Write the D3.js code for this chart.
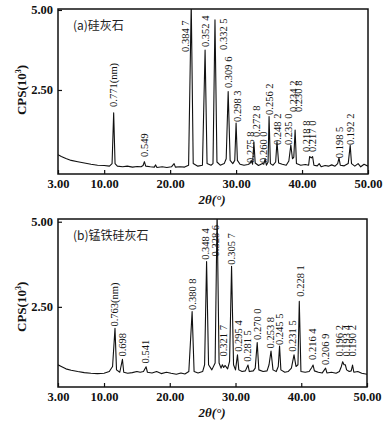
<!DOCTYPE html>
<html>
<head>
<meta charset="utf-8">
<script src="https://cdn.jsdelivr.net/npm/d3@7"></script>
<style>
  body { margin: 0; background: #fff; }
  svg { display: block; }
</style>
</head>
<body>
<div id="chart"></div>
<script>
// Chart size
const width = 391, height = 431;

// Axis ticks shared by both panels
const xTicks = [3, 10, 20, 30, 40, 50];
const yTicks = [2.5, 5];

// Panel titles
const titleA = "(a)硅灰石";
const titleB = "(b)锰铁硅灰石";

// Diffraction traces: [2theta, CPS/1000]
const traceA = [
  [3.0,0.48],[3.5,0.42],[4.2,0.36],[5,0.3],[6,0.26],[7,0.22],[8,0.18],[9,0.15],[10,0.14],[10.8,0.12],
  [11.2,0.2],[11.44,1.79],[11.65,0.2],[12,0.12],[12.8,0.1],[13.5,0.12],[14.3,0.09],[15,0.11],[15.6,0.1],
  [15.9,0.14],[16.1,0.26],[16.3,0.12],[17,0.1],[17.6,0.09],[17.8,0.16],[18,0.08],[18.8,0.1],[19.5,0.08],
  [20.2,0.1],[20.6,0.2],[20.8,0.09],[21.5,0.1],[22.2,0.09],[22.8,0.15],[23.2,5.2],[23.5,0.2],[24.2,0.12],
  [24.9,0.15],[25.3,3.75],[25.6,0.2],[26.2,0.15],[26.5,0.2],[26.8,4.69],[27.1,0.25],[27.6,0.15],[28.2,0.2],
  [28.5,0.35],[28.8,2.45],[29.1,0.3],[29.5,0.2],[29.8,0.3],[30.0,1.47],[30.2,0.3],[30.6,0.18],[31.2,0.15],
  [31.8,0.17],[32.1,0.2],[32.3,0.3],[32.5,0.18],[32.7,0.87],[32.9,0.22],[33.4,0.14],[34.0,0.2],[34.2,0.18],
  [34.4,0.35],[34.6,0.15],[34.85,0.25],[35.0,1.67],[35.2,0.2],[35.6,0.15],[36.0,0.25],[36.2,0.89],[36.45,0.22],
  [37,0.18],[37.6,0.15],[38.0,0.28],[38.3,0.78],[38.55,0.35],[38.75,0.4],[38.95,1.25],[39.15,0.2],[39.8,0.15],
  [40.5,0.17],[41.0,0.15],[41.15,0.42],[41.4,0.38],[41.6,0.42],[41.8,0.15],[42.3,0.13],[42.6,0.2],[42.9,0.1],
  [43.5,0.14],[44,0.12],[44.5,0.16],[45,0.12],[45.4,0.2],[45.6,0.38],[45.8,0.15],[46.4,0.13],[47.0,0.2],
  [47.3,0.77],[47.5,0.2],[48,0.12],[48.5,0.2],[48.9,0.1],[49.4,0.18],[50,0.12]
];

const traceB = [
  [3,0.8],[3.5,0.75],[4.2,0.68],[5,0.64],[6,0.6],[7,0.57],[8,0.55],[9,0.54],[10,0.55],[10.8,0.6],
  [11.3,0.75],[11.67,1.87],[11.9,0.65],[12.4,0.58],[12.8,0.96],[13.0,0.58],[13.6,0.55],[14.3,0.57],[15,0.6],
  [15.5,0.58],[16.0,0.6],[16.4,0.74],[16.6,0.58],[17.3,0.56],[18,0.6],[18.7,0.54],[19.5,0.58],[20.2,0.55],
  [21,0.52],[21.7,0.56],[22.3,0.53],[22.9,0.6],[23.4,2.36],[23.7,0.6],[24.3,0.56],[25.0,0.6],[25.3,0.8],
  [25.6,3.83],[25.9,0.8],[26.4,0.65],[26.9,0.85],[27.2,5.3],[27.5,0.85],[27.8,0.7],[28.0,0.8],[28.2,0.72],
  [28.4,0.78],[28.8,0.68],[29.1,0.9],[29.4,3.69],[29.7,0.8],[30.0,0.65],[30.3,1.09],[30.5,0.65],[31.0,0.6],
  [31.5,0.62],[31.9,0.79],[32.1,0.6],[32.7,0.62],[33.0,0.7],[33.3,1.45],[33.55,0.65],[34.2,0.6],[34.8,0.62],
  [35.1,0.8],[35.4,1.2],[35.7,0.65],[36.2,0.6],[36.5,0.75],[36.7,1.35],[36.9,0.65],[37.5,0.58],[38.0,0.6],
  [38.5,0.7],[38.9,1.09],[39.2,0.75],[39.5,0.8],[39.7,2.66],[39.95,0.6],[40.6,0.58],[41.2,0.6],[41.6,0.72],
  [41.8,0.79],[42.0,0.62],[42.6,0.58],[43.2,0.56],[43.7,0.7],[43.9,0.56],[44.6,0.58],[45.3,0.55],[45.8,0.6],
  [46.1,0.75],[46.3,0.89],[46.5,0.8],[46.7,0.8],[46.9,0.65],[47.3,0.6],[47.6,0.62],[47.8,0.79],[48.0,0.58],
  [48.6,0.6],[49.2,0.55],[50,0.52]
];

// Peak labels (d-spacing in nm) and where their lower end sits
const labelTextA = ["0.771(nm)", "0.549", "0.384 7", "0.352 4", "0.332 5", "0.309 6", "0.298 3",
  "0.275 8", "0.272 8", "0.260 0", "0.256 2", "0.248 2", "0.235 0", "0.234 2", "0.230 8",
  "0.218 8", "0.217 0", "0.198 5", "0.192 2"];
const labelThetaA = [11.38, 16.04, 22.30, 25.29, 28.06, 28.77, 30.24, 32.11, 33.02, 34.13, 35.03,
  36.31, 37.91, 38.67, 39.43, 40.71, 41.61, 45.60, 47.27];
const labelCpsA = [1.97, 0.41, 3.69, 3.84, 3.75, 2.56, 1.5, 0.22, 1.03, 0.22, 1.72, 0.78, 0.78,
  1.81, 1.81, 0.56, 0.56, 0.37, 0.78];

const labelTextB = ["0.763(nm)", "0.698", "0.541", "0.380 8", "0.348 4", "0.328 6", "0.321 7",
  "0.305 7", "0.295 4", "0.281 5", "0.270 0", "0.253 8", "0.245 5", "0.231 5", "0.228 1",
  "0.216 4", "0.206 9", "0.196 2", "0.193 4", "0.190 2"];
const labelThetaB = [11.52, 12.78, 16.34, 23.49, 25.36, 26.88, 28.14, 29.42, 30.43, 31.80, 33.38,
  35.25, 36.66, 38.64, 39.81, 41.68, 43.61, 45.79, 46.81, 47.83];
const labelCpsB = [1.92, 1.04, 0.84, 2.41, 3.88, 3.98, 1.04, 3.74, 1.18, 0.89, 1.53, 1.28, 1.38,
  1.18, 2.8, 0.94, 0.79, 1.04, 1.04, 1.04];

const svg = d3.select("#chart").append("svg")
  .attr("width", width)
  .attr("height", height);

svg.append("rect").attr("width", width).attr("height", height).attr("fill", "#fff");

const serif = "'Liberation Serif', 'DejaVu Serif', serif";

// Draw one XRD panel
function drawPanel(cfg) {
  const x = d3.scaleLinear().domain([3, 50]).range([cfg.left, cfg.right]);
  const y = d3.scaleLinear().domain(cfg.yDomain).range([cfg.bottom, cfg.top]);

  const g = svg.append("g");

  g.append("clipPath").attr("id", cfg.id)
    .append("rect")
    .attr("x", cfg.left).attr("y", cfg.top)
    .attr("width", cfg.right - cfg.left).attr("height", cfg.bottom - cfg.top);

  // trace
  const line = d3.line().x(d => x(d[0])).y(d => y(d[1]));
  g.append("path")
    .datum(cfg.trace)
    .attr("clip-path", `url(#${cfg.id})`)
    .attr("d", line)
    .attr("fill", "none")
    .attr("stroke", "#111")
    .attr("stroke-width", 1.1)
    .attr("stroke-linejoin", "round");

  // axes (ticks point inward)
  const xAxis = g.append("g")
    .attr("transform", `translate(0,${cfg.bottom})`)
    .call(d3.axisBottom(x).tickValues(xTicks).tickFormat(d3.format(".2f"))
      .tickSizeInner(-4).tickSizeOuter(0).tickPadding(5));
  const yAxis = g.append("g")
    .attr("transform", `translate(${cfg.left},0)`)
    .call(d3.axisLeft(y).tickValues(yTicks).tickFormat(d3.format(".2f"))
      .tickSizeInner(-4).tickSizeOuter(0).tickPadding(5));
  [xAxis, yAxis].forEach(a => {
    a.select(".domain").remove();
    a.selectAll("line").attr("stroke", "#111").attr("stroke-width", 1.2);
    a.selectAll("text")
      .attr("fill", "#111")
      .style("font-family", serif)
      .style("font-size", "12.5px")
      .style("font-weight", "bold");
  });

  // frame
  g.append("rect")
    .attr("x", cfg.left).attr("y", cfg.top)
    .attr("width", cfg.right - cfg.left).attr("height", cfg.bottom - cfg.top)
    .attr("fill", "none")
    .attr("stroke", "#111")
    .attr("stroke-width", 1.5);

  // peak labels
  g.selectAll(".peak-label")
    .data(cfg.labels)
    .enter()
    .append("text")
    .attr("class", "peak-label")
    .attr("transform", d => `translate(${x(d.theta)},${y(d.cps)}) rotate(-90)`)
    .attr("dy", "0.35em")
    .attr("text-anchor", "start")
    .style("font-family", serif)
    .style("font-size", "10.5px")
    .attr("fill", "#111")
    .text(d => d.text);

  // panel title
  g.append("text")
    .attr("x", cfg.left + 15)
    .attr("y", cfg.top + 21)
    .style("font-family", "'Noto Sans CJK SC', serif")
    .style("font-size", "12px")
    .attr("fill", "#222")
    .text(cfg.title);

  // y axis title
  const yt = g.append("text")
    .attr("transform", `translate(${cfg.left - 32},${y(2.5)}) rotate(-90)`)
    .attr("text-anchor", "middle")
    .style("font-family", serif)
    .style("font-size", "13px")
    .style("font-weight", "bold")
    .attr("fill", "#111");
  yt.append("tspan").text("CPS(10");
  yt.append("tspan").attr("dy", "-5").style("font-size", "8px").text("3");
  yt.append("tspan").attr("dy", "5").text(")");

  // x axis title
  g.append("text")
    .attr("x", 212)
    .attr("y", cfg.bottom + 30)
    .attr("text-anchor", "middle")
    .style("font-family", serif)
    .style("font-size", "13px")
    .style("font-weight", "bold")
    .style("font-style", "italic")
    .attr("fill", "#111")
    .text("2θ(°)");
}

function makeLabels(texts, thetas, cps) {
  return texts.map((t, i) => ({ text: t, theta: thetas[i], cps: cps[i] }));
}

drawPanel({
  id: "clipA", left: 58, right: 368, top: 9, bottom: 174,
  yDomain: [-0.125, 5.03],
  trace: traceA, title: titleA,
  labels: makeLabels(labelTextA, labelThetaA, labelCpsA)
});

drawPanel({
  id: "clipB", left: 58, right: 367, top: 219, bottom: 387,
  yDomain: [0.147, 5.08],
  trace: traceB, title: titleB,
  labels: makeLabels(labelTextB, labelThetaB, labelCpsB)
});
</script>
</body>
</html>
